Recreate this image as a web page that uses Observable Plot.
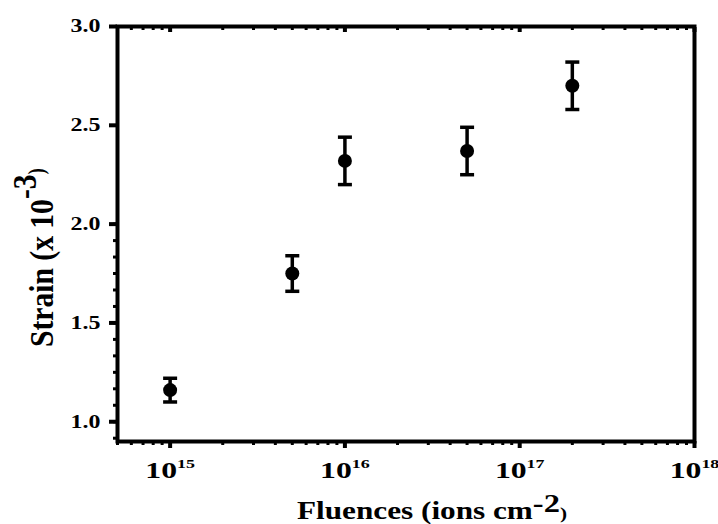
<!DOCTYPE html>
<html>
<head>
<meta charset="utf-8">
<script src="https://cdn.jsdelivr.net/npm/d3@7"></script>
<script src="https://cdn.jsdelivr.net/npm/@observablehq/plot@0.6"></script>
<style>
  html, body { margin: 0; padding: 0; background: #fff; }
  #chart svg { display: block; }
</style>
</head>
<body>
<div id="chart"></div>
<script>
// Measured strain versus ion fluence
const fluence = [1e15, 5e15, 1e16, 5e16, 2e17];        // ions cm^-2
const strain = [1.16, 1.75, 2.32, 2.37, 2.70];         // x 10^-3
const strainErr = [0.06, 0.09, 0.12, 0.12, 0.12];

const xTickExponents = [15, 16, 17, 18];
const yTicks = [1.0, 1.5, 2.0, 2.5, 3.0];

const data = fluence.map((f, i) => ({f, s: strain[i], e: strainErr[i]}));

const xMajor = xTickExponents.map(p => 10 ** p);
// log minor ticks 2..9 x 10^n inside the domain
const xMinor = [];
for (let p = 14; p <= 17; p++) for (let m = 2; m <= 9; m++) {
  const v = m * 10 ** p;
  if (v >= 5e14 && v <= 1e18) xMinor.push(v);
}
// five minor ticks between each pair of major y ticks
const yMinor = d3.range(-1, 13).map(k => 1.0 + k * 0.5 / 6).filter(v => v >= 0.9 && v <= 3.0);

// horizontal cap for the error bars
const cap = {draw(ctx) { ctx.moveTo(-7, 0); ctx.lineTo(7, 0); }};

const font = "'Liberation Serif', 'Times New Roman', serif";
const none = () => "";

const chart = Plot.plot({
  width: 718,
  height: 524,
  marginLeft: 117,
  marginRight: 24,
  marginTop: 26,
  marginBottom: 83,
  style: {fontFamily: font, fontWeight: "bold", color: "#000", background: "#fff"},
  x: {type: "log", domain: [5e14, 1e18]},
  y: {domain: [0.9, 3.0]},
  marks: [
    Plot.axisY({ticks: yMinor, tickSize: 4, strokeWidth: 3, tickFormat: none, label: null}),
    Plot.axisY({ticks: yTicks, tickSize: 8, strokeWidth: 4, tickPadding: 9, fontSize: 18,
                tickFormat: d => d.toFixed(1), label: null}),
    Plot.axisX({ticks: xMinor, tickSize: 4, strokeWidth: 3, tickFormat: none, label: null}),
    Plot.axisX({ticks: xMajor, tickSize: 7, strokeWidth: 4, tickPadding: 13, fontSize: 23,
                tickFormat: d => "10^" + Math.round(Math.log10(d)), label: null}),
    Plot.axisX({anchor: "top", ticks: xMinor, tickSize: -3, strokeWidth: 3, tickFormat: none, label: null}),
    Plot.axisX({anchor: "top", ticks: xMajor, tickSize: -5, strokeWidth: 4, tickFormat: none, label: null}),
    Plot.frame({stroke: "#000", strokeWidth: 4}),
    Plot.ruleX(data, {x: "f", y1: d => d.s - d.e, y2: d => d.s + d.e, stroke: "#000", strokeWidth: 3.5}),
    Plot.dot(data, {x: "f", y: d => d.s - d.e, symbol: cap, stroke: "#000", strokeWidth: 3.5, fill: "none"}),
    Plot.dot(data, {x: "f", y: d => d.s + d.e, symbol: cap, stroke: "#000", strokeWidth: 3.5, fill: "none"}),
    Plot.dot(data, {x: "f", y: "s", r: 7, fill: "#000", stroke: "none"})
  ]
});

document.getElementById("chart").appendChild(chart);

const svg = d3.select(chart);

// widen a text element horizontally by the given factor
function widen(el, k) {
  const w = el.getComputedTextLength();
  if (w > 0) {
    el.setAttribute("textLength", w * k);
    el.setAttribute("lengthAdjust", "spacingAndGlyphs");
  }
}

// power-of-ten tick labels with superscript exponents
svg.selectAll('g[aria-label="x-axis tick label"] text').each(function() {
  const t = d3.select(this);
  const s = t.text();
  if (!s.includes("^")) return;
  const [base, exp] = s.split("^");
  t.text(null);
  t.append("tspan").text(base);
  t.append("tspan").attr("font-size", 13).attr("dy", "-0.75em").text(exp);
  widen(this, 1.38);
});
svg.selectAll('g[aria-label="y-axis tick label"] text').each(function() {
  if (this.textContent) widen(this, 1.33);
});

// axis titles
const xt = svg.append("text")
  .attr("x", 432).attr("y", 519)
  .attr("text-anchor", "middle")
  .attr("font-family", font).attr("font-weight", "bold").attr("font-size", 25).attr("fill", "#000");
xt.append("tspan").text("Fluences (ions cm");
xt.append("tspan").attr("font-size", 26).attr("dy", -7).text("-2");
xt.append("tspan").attr("font-size", 17).attr("dy", 7).text(")");
xt.attr("textLength", 270).attr("lengthAdjust", "spacingAndGlyphs");

const yt = svg.append("text")
  .attr("transform", "translate(53,347) scale(1.3,1) rotate(-90)")
  .attr("text-anchor", "start")
  .attr("font-family", font).attr("font-weight", "bold").attr("font-size", 26).attr("fill", "#000");
yt.append("tspan").text("Strain (x 10");
yt.append("tspan").attr("font-size", 26).attr("dy", -13).text("-3");
yt.append("tspan").attr("font-size", 17).attr("dy", 6).text(")");
yt.attr("textLength", 179).attr("lengthAdjust", "spacingAndGlyphs");
</script>
</body>
</html>
